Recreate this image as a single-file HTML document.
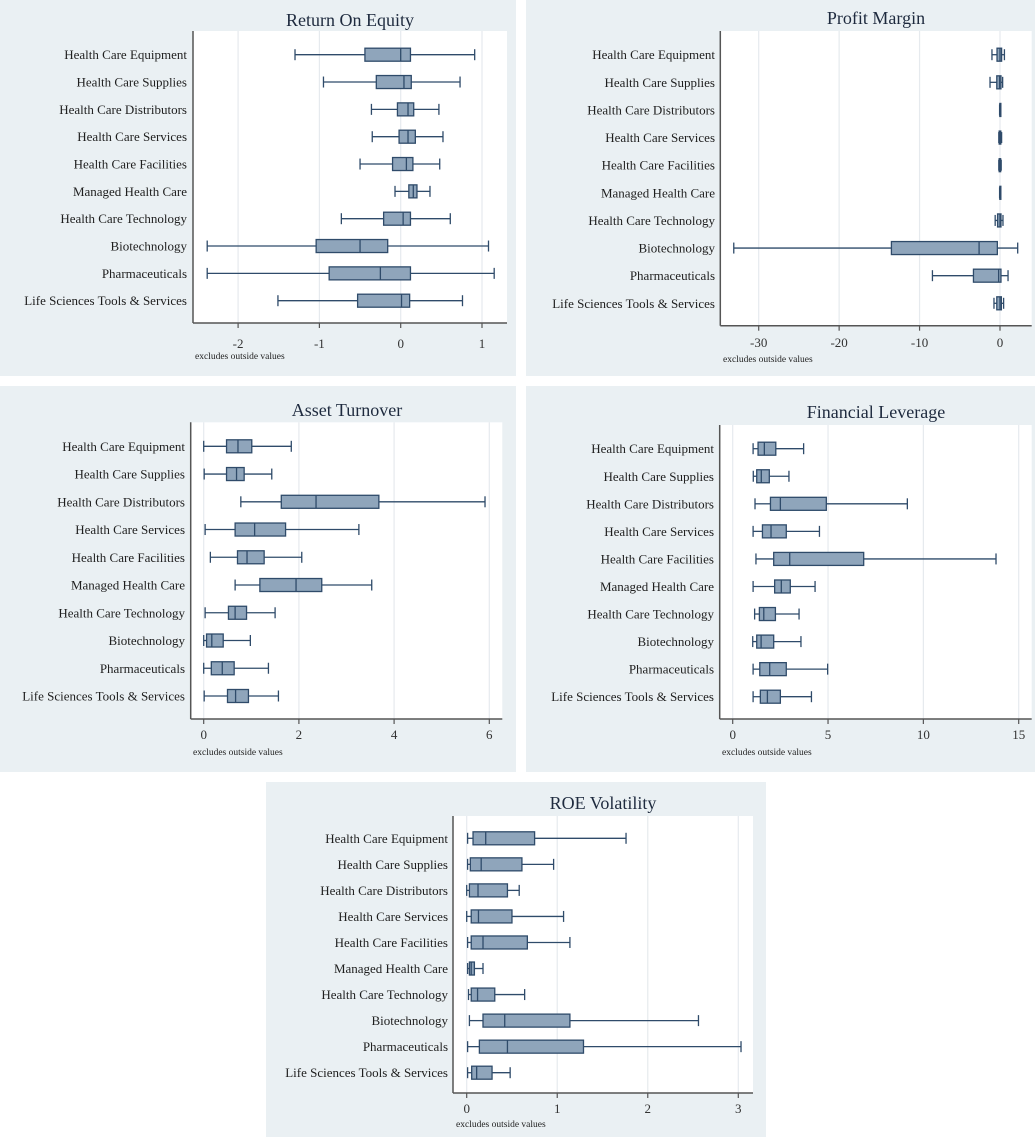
<!DOCTYPE html>
<html><head><meta charset="utf-8">
<style>
html,body{margin:0;padding:0;background:#fff;}
svg{display:block;font-family:"Liberation Serif",serif;}
</style></head>
<body>
<svg id="chart" width="1035" height="1137" viewBox="0 0 1035 1137" xmlns="http://www.w3.org/2000/svg"></svg>
<script>
const categories = ["Health Care Equipment","Health Care Supplies","Health Care Distributors","Health Care Services","Health Care Facilities","Managed Health Care","Health Care Technology","Biotechnology","Pharmaceuticals","Life Sciences Tools & Services"];

// each row: [lower whisker, q1, median, q3, upper whisker]
const roeStats = [[-1.30,-0.44,0.0,0.12,0.91],[-0.95,-0.30,0.04,0.13,0.73],[-0.36,-0.04,0.09,0.16,0.47],[-0.35,-0.02,0.09,0.18,0.52],[-0.50,-0.10,0.07,0.15,0.48],[-0.07,0.10,0.155,0.20,0.36],[-0.73,-0.21,0.03,0.12,0.61],[-2.38,-1.04,-0.50,-0.16,1.08],[-2.38,-0.88,-0.25,0.12,1.15],[-1.51,-0.53,0.01,0.11,0.76]];
const roeTicks = [-2,-1,0,1];
const pmStats = [[-1.0,-0.37,0,0.2,0.55],[-1.24,-0.4,-0.05,0.12,0.33],[-0.05,-0.02,0,0.03,0.05],[-0.15,-0.1,0,0.1,0.2],[-0.15,-0.1,0,0.08,0.15],[-0.05,-0.02,0,0.02,0.05],[-0.6,-0.3,0,0.12,0.37],[-33.1,-13.5,-2.6,-0.33,2.2],[-8.4,-3.3,-0.17,0.12,1.0],[-0.75,-0.4,0,0.17,0.45]];
const pmTicks = [-30,-20,-10,0];
const atStats = [[0,0.48,0.72,1.01,1.84],[0.01,0.48,0.69,0.85,1.43],[0.78,1.63,2.36,3.68,5.91],[0.03,0.66,1.07,1.72,3.26],[0.14,0.71,0.91,1.27,2.06],[0.66,1.18,1.94,2.48,3.53],[0.03,0.52,0.66,0.90,1.50],[0,0.06,0.17,0.41,0.98],[0,0.16,0.39,0.64,1.36],[0.01,0.50,0.67,0.94,1.57]];
const atTicks = [0,2,4,6];
const flStats = [[1.07,1.33,1.66,2.26,3.72],[1.08,1.26,1.50,1.92,2.95],[1.17,1.98,2.50,4.91,9.16],[1.07,1.56,2.01,2.81,4.55],[1.22,2.15,2.99,6.87,13.81],[1.07,2.20,2.55,3.02,4.32],[1.15,1.40,1.63,2.24,3.48],[1.05,1.26,1.49,2.15,3.58],[1.07,1.42,1.94,2.81,4.98],[1.07,1.45,1.82,2.50,4.13]];
const flTicks = [0,5,10,15];
const rvStats = [[0.01,0.07,0.21,0.75,1.76],[0.01,0.04,0.16,0.61,0.96],[0.0,0.03,0.125,0.45,0.58],[0,0.05,0.13,0.50,1.07],[0.01,0.05,0.18,0.67,1.14],[0.01,0.03,0.05,0.085,0.18],[0.02,0.05,0.12,0.31,0.64],[0.03,0.18,0.42,1.14,2.56],[0.01,0.14,0.45,1.29,3.03],[0.01,0.055,0.11,0.28,0.48]];
const rvTicks = [0,1,2,3];

const NS="http://www.w3.org/2000/svg";
const svg=document.getElementById('chart');
function mk(tag,attrs,parent){const e=document.createElementNS(NS,tag);for(const k in attrs)e.setAttribute(k,attrs[k]);(parent||svg).appendChild(e);return e;}

const panels=[
 {key:"roe",title:"Return On Equity",stats:roeStats,ticks:roeTicks,bg:[0,0,516,376],plot:[193,31,507,323],x0:[0,400.7],x1:[1,482],row0:54.7,row1:300.7,labR:187,titleX:350,titleY:26,tickY:348,exX:195,exY:359},
 {key:"profit-margin",title:"Profit Margin",stats:pmStats,ticks:pmTicks,bg:[526,0,1035,376],plot:[720.3,31,1031.7,325.7],x0:[-30,758.7],x1:[0,1000],row0:54.7,row1:303.3,labR:715,titleX:876,titleY:24,tickY:347,exX:723,exY:362},
 {key:"asset-turnover",title:"Asset Turnover",stats:atStats,ticks:atTicks,bg:[0,386,516,772],plot:[190.7,422.3,502.3,719],x0:[0,203.7],x1:[6,489.3],row0:446.3,row1:696,labR:185,titleX:347,titleY:416,tickY:739,exX:193,exY:755},
 {key:"financial-leverage",title:"Financial Leverage",stats:flStats,ticks:flTicks,bg:[526,386,1035,772],plot:[719.7,425,1031.7,719],x0:[0,732.7],x1:[15,1018.7],row0:448.7,row1:696.7,labR:714,titleX:876,titleY:418,tickY:739,exX:722,exY:755},
 {key:"roe-volatility",title:"ROE Volatility",stats:rvStats,ticks:rvTicks,bg:[266,782,766,1137],plot:[453,816,753,1093],x0:[0,466.7],x1:[3,738.3],row0:838.3,row1:1072.7,labR:448,titleX:603,titleY:809,tickY:1113,exX:456,exY:1127}
];

panels.forEach(p=>{
 const g=mk('g',{});
 
 
 const bg=mk('rect',{x:p.bg[0],y:p.bg[1],width:p.bg[2]-p.bg[0],height:p.bg[3]-p.bg[1],fill:'#eaf0f3'},g);
 
 
 const [L,T,R,B]=p.plot;
 const pr=mk('rect',{x:L,y:T,width:R-L,height:B-T,fill:'#ffffff'},g);
 
 
 const sx=v=>p.x0[1]+(v-p.x0[0])*(p.x1[1]-p.x0[1])/(p.x1[0]-p.x0[0]);
 const n=categories.length;
 const sy=i=>p.row0+i*(p.row1-p.row0)/(n-1);
 const t=mk('text',{x:p.titleX,y:p.titleY,'text-anchor':'middle','font-size':'18',fill:'#1e2a3e'},g);
 t.textContent=p.title;
 
 
 p.ticks.forEach(tv=>{
  const x=sx(tv);
  const gl=mk('line',{x1:x,x2:x,y1:T,y2:B,stroke:'#e6eaee','stroke-width':1.2},g);
  
  
  const tk=mk('line',{x1:x,x2:x,y1:B,y2:B+5,stroke:'#555','stroke-width':1.2},g);
  
  
  const tl=mk('text',{x:x,y:p.tickY,'text-anchor':'middle','font-size':'13',fill:'#333'},g);
  tl.textContent=String(tv);
  
  
 });
 const ax=mk('line',{x1:L,x2:R,y1:B,y2:B,stroke:'#555','stroke-width':1.5},g);
 
 
 const ay=mk('line',{x1:L,x2:L,y1:T,y2:B,stroke:'#555','stroke-width':1.5},g);
 
 
 const ex=mk('text',{x:p.exX,y:p.exY,'font-size':'9.5',fill:'#222'},g);
 ex.textContent='excludes outside values';
 
 
 categories.forEach((c,i)=>{
  const y=sy(i);
  const lb=mk('text',{x:p.labR,y:y+4.5,'text-anchor':'end','font-size':'13',fill:'#1e1e1e'},g);
  lb.textContent=c;
  
  
  const s=p.stats[i];
  const bx=mk('g',{},g);
  
  
  const st={stroke:'#2f4b6a','stroke-width':1.3};
  mk('line',Object.assign({x1:sx(s[0]),x2:sx(s[1]),y1:y,y2:y},st),bx);
  mk('line',Object.assign({x1:sx(s[3]),x2:sx(s[4]),y1:y,y2:y},st),bx);
  mk('line',Object.assign({x1:sx(s[0]),x2:sx(s[0]),y1:y-5.5,y2:y+5.5},st),bx);
  mk('line',Object.assign({x1:sx(s[4]),x2:sx(s[4]),y1:y-5.5,y2:y+5.5},st),bx);
  mk('rect',Object.assign({x:sx(s[1]),y:y-6.5,width:Math.max(1,sx(s[3])-sx(s[1])),height:13,fill:'#8fa5bb'},st),bx);
  mk('line',Object.assign({x1:sx(s[2]),x2:sx(s[2]),y1:y-6.5,y2:y+6.5},st),bx);
 });
});
</script>
</body></html>
